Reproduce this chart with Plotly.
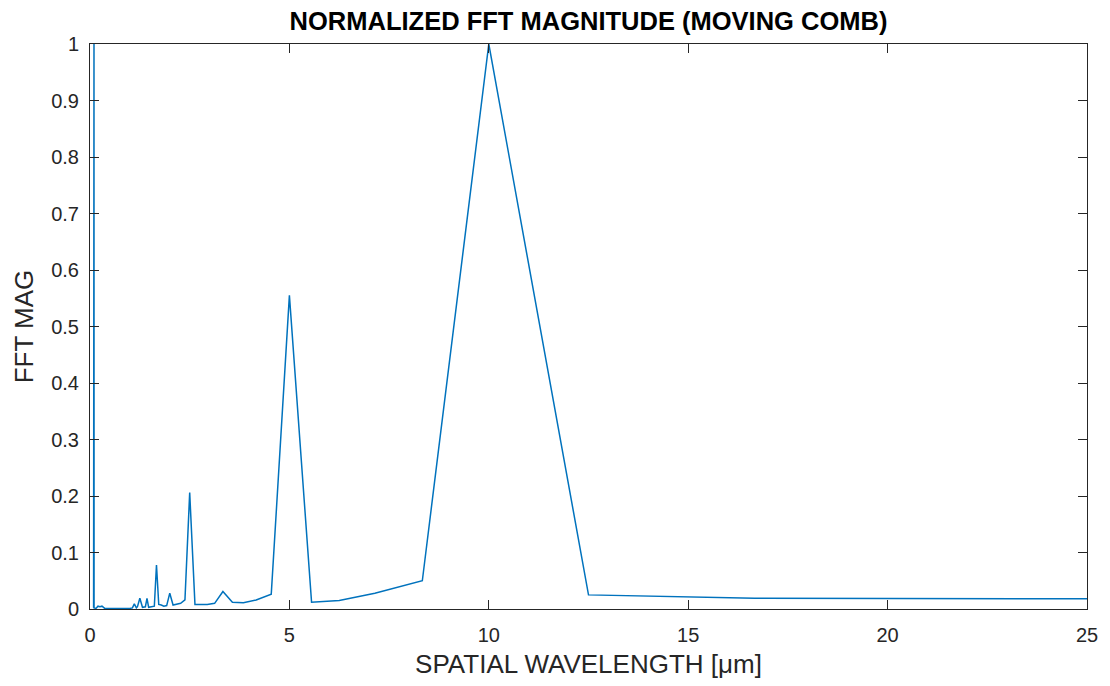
import plotly.graph_objects as go

# Spatial wavelength (µm) of each FFT bin and its normalized magnitude
wavelength_um = [
    0.090, 0.100, 0.102, 0.15, 0.20, 0.25, 0.30, 0.37, 0.45, 0.60, 0.80, 0.95,
    1.000, 1.064, 1.111, 1.163, 1.190, 1.250, 1.316, 1.389, 1.429, 1.471,
    1.562, 1.613, 1.667, 1.724, 1.786, 1.852, 1.923, 2.000, 2.083, 2.174,
    2.273, 2.381, 2.500, 2.632, 2.778, 2.941, 3.125, 3.333, 3.571, 3.846,
    4.167, 4.545, 5.000, 5.556, 6.250, 7.143, 8.333, 10.000, 12.500,
    16.667, 25.000,
]
fft_mag = [
    0.002, 1.000, 0.002, 0.001, 0.005, 0.004, 0.005, 0.001, 0.001, 0.000, 0.000, 0.001,
    0.001, 0.002, 0.009, 0.002, 0.004, 0.019, 0.003, 0.004, 0.019, 0.003,
    0.004, 0.005, 0.078, 0.008, 0.007, 0.005, 0.006, 0.028, 0.007, 0.009,
    0.010, 0.016, 0.206, 0.008, 0.008, 0.008, 0.010, 0.031, 0.012, 0.011,
    0.016, 0.026, 0.555, 0.012, 0.015, 0.028, 0.050, 1.000, 0.025,
    0.019, 0.018,
]

x_ticks = [0, 5, 10, 15, 20, 25]
y_ticks = [0, 0.1, 0.2, 0.3, 0.4, 0.5, 0.6, 0.7, 0.8, 0.9, 1]

axis_color = "#262626"
font_family = "Liberation Sans, Arial, Helvetica, sans-serif"

fig = go.Figure()
fig.add_trace(go.Scatter(
    x=wavelength_um,
    y=fft_mag,
    mode="lines",
    line=dict(color="#0072BD", width=1.5),
    showlegend=False,
))

axis_common = dict(
    showline=True,
    linecolor=axis_color,
    linewidth=1,
    mirror="ticks",
    ticks="inside",
    ticklen=9,
    tickwidth=1,
    tickcolor=axis_color,
    showgrid=False,
    zeroline=False,
    tickfont=dict(family=font_family, size=20, color=axis_color),
)

fig.update_layout(
    width=1110,
    height=686,
    paper_bgcolor="white",
    plot_bgcolor="white",
    margin=dict(l=90, r=23, t=44, b=77),
    font=dict(family=font_family, color=axis_color),
    title=dict(
        text="<b>NORMALIZED FFT MAGNITUDE (MOVING COMB)</b>",
        x=(90 + 1087) / 2 / 1110,
        xanchor="center",
        y=1 - 21 / 686,
        yanchor="middle",
        font=dict(family=font_family, size=25.5, color="black"),
    ),
    xaxis=dict(
        range=[0, 25],
        tickvals=x_ticks,
        ticklabelstandoff=8,
        title=dict(text="SPATIAL WAVELENGTH [μm]", standoff=9,
                   font=dict(family=font_family, size=26, color=axis_color)),
        **axis_common,
    ),
    yaxis=dict(
        range=[0, 1],
        tickvals=y_ticks,
        ticktext=[f"{v:g}" for v in y_ticks],
        ticklabelstandoff=6,
        title=dict(text="FFT MAG", standoff=10,
                   font=dict(family=font_family, size=26, color=axis_color)),
        **axis_common,
    ),
)

fig.write_html("out.html")
